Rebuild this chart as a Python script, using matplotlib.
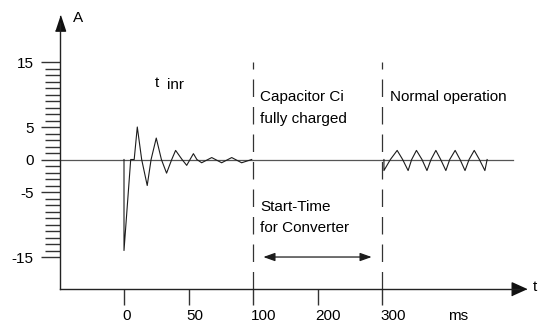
import matplotlib
matplotlib.use('Agg')
import matplotlib.pyplot as plt
import numpy as np
from matplotlib.transforms import ScaledTranslation

plt.rcParams['font.family'] = ['Liberation Sans', 'DejaVu Sans']

# inrush current after switch-on (t in ms, current in A)
inrush_t = [0, 0, 5.2, 7.9, 10.3, 13.7, 18, 21, 25, 29, 33, 37, 40, 45,
            48.6, 53.8, 56.5, 60.2, 68, 75.7, 83.5, 91.2, 99]
inrush_a = [0, -14, 0, 0, 5, 0, -4, 0, 3.3, 0, -2.1, 0, 1.4, 0,
            -0.9, 0.9, 0, -0.5, 0.3, -0.5, 0.3, -0.5, 0]

# ripple in normal operation
normal_t = [303, 303, 313, 323.5, 332, 340.5, 346, 353.4, 362, 369.7, 376,
            383.5, 391, 399, 405, 413.4, 421, 428.7, 435, 443, 451, 459.5, 463]
normal_a = [0, -1.7, 0, 1.4, 0, -1.7, 0, 1.4, 0, -1.7, 0,
            1.4, 0, -1.7, 0, 1.4, 0, -1.7, 0, 1.4, 0, -1.7, 0]

baseline_t = [-50, 503]
phase_marks = [100, 300]
start_span = [116, 284]

x_ticks = [0, 50, 100, 200, 300]
y_major = [-15, -5, 0, 5, 15]
y_minor = list(range(-15, 16))


def fwd(t):
    t = np.asarray(t, dtype=float)
    return np.where(t <= 100, t, 100 + (t - 100) * 0.5)


def inv(u):
    u = np.asarray(u, dtype=float)
    return np.where(u <= 100, u, 100 + (u - 100) * 2.0)


W, H = 542, 325
fig = plt.figure(figsize=(W / 100, H / 100), dpi=100)
ax = fig.add_axes([59.5 / W, (H - 289) / H, (519 - 59.5) / W, (289 - 23) / H])
ax.set_xscale('function', functions=(fwd, inv))
ax.set_xlim(-50, 512.4)
ax.set_ylim(-19.92, 21.0)

ink = '#1c1c1c'
ax.plot(baseline_t, [0, 0], color='#555555', lw=0.9)
ax.plot(inrush_t, inrush_a, color=ink, lw=0.8)
ax.plot(normal_t, normal_a, color=ink, lw=0.8)
ax.vlines(phase_marks, -19.92, 15, color='#333333', lw=0.9,
          linestyles=(0, (14, 8)))

ax.annotate('', xy=(start_span[1], -15), xytext=(start_span[0], -15),
            arrowprops=dict(arrowstyle='<|-|>,head_length=0.7,head_width=0.25',
                            color=ink, lw=0.9, shrinkA=0, shrinkB=0))

for s in ['top', 'right']:
    ax.spines[s].set_visible(False)
for s in ['left', 'bottom']:
    ax.spines[s].set_color('#222222')
    ax.spines[s].set_linewidth(1.0)

# arrow heads on the axes
ax.plot([0], [1], transform=ax.transAxes, clip_on=False, color='#111111',
        marker=[(-0.33, -0.5), (0.33, -0.5), (0, 0.5)], markersize=11, lw=0)
ax.plot([1], [0], transform=ax.transAxes, clip_on=False, color='#111111',
        marker=[(-0.5, -0.45), (-0.5, 0.45), (0.5, 0)], markersize=10.5, lw=0)

ax.set_xticks(x_ticks)
ax.set_xticklabels([str(v) for v in x_ticks])
ax.set_yticks(y_major)
ax.set_yticklabels([str(v) for v in y_major])
ax.set_yticks(y_minor, minor=True)
ax.xaxis.set_minor_locator(matplotlib.ticker.NullLocator())

ax.tick_params(axis='y', which='major', length=13.7, width=1.0, color='#333333',
               labelsize=11, pad=4.8, direction='out')
ax.tick_params(axis='y', which='minor', length=10.8, width=1.0, color='#333333',
               direction='out')
ax.tick_params(axis='x', which='major', length=11.5, width=1.0, color='#333333',
               labelsize=11, pad=3.2, direction='out')

shift = ScaledTranslation(-2 / 100, 0, fig.dpi_scale_trans)
for lab in ax.get_xticklabels():
    lab.set_horizontalalignment('left')
    lab.set_transform(lab.get_transform() + shift)

fs = 11
ax.text(-35.7, 21.8, 'A', fontsize=fs, ha='center', va='center', clip_on=False)
ax.text(537, -19.6, 't', fontsize=fs, ha='center', va='center', clip_on=False)
ax.text(417.8, -24.1, 'ms', fontsize=fs, ha='center', va='center', clip_on=False)

ax.text(24, 11.7, 't', fontsize=fs, ha='left', va='center')
ax.text(33.3, 11.4, 'inr', fontsize=fs, ha='left', va='center')
ax.text(110.8, 9.6, 'Capacitor Ci', fontsize=fs, ha='left', va='center')
ax.text(110.8, 6.3, 'fully charged', fontsize=fs, ha='left', va='center')
ax.text(312.4, 9.6, 'Normal operation', fontsize=fs, ha='left', va='center')
ax.text(110.8, -7.3, 'Start-Time', fontsize=fs, ha='left', va='center')
ax.text(110.8, -10.6, 'for Converter', fontsize=fs, ha='left', va='center')

fig.savefig('out.png', dpi=100)
